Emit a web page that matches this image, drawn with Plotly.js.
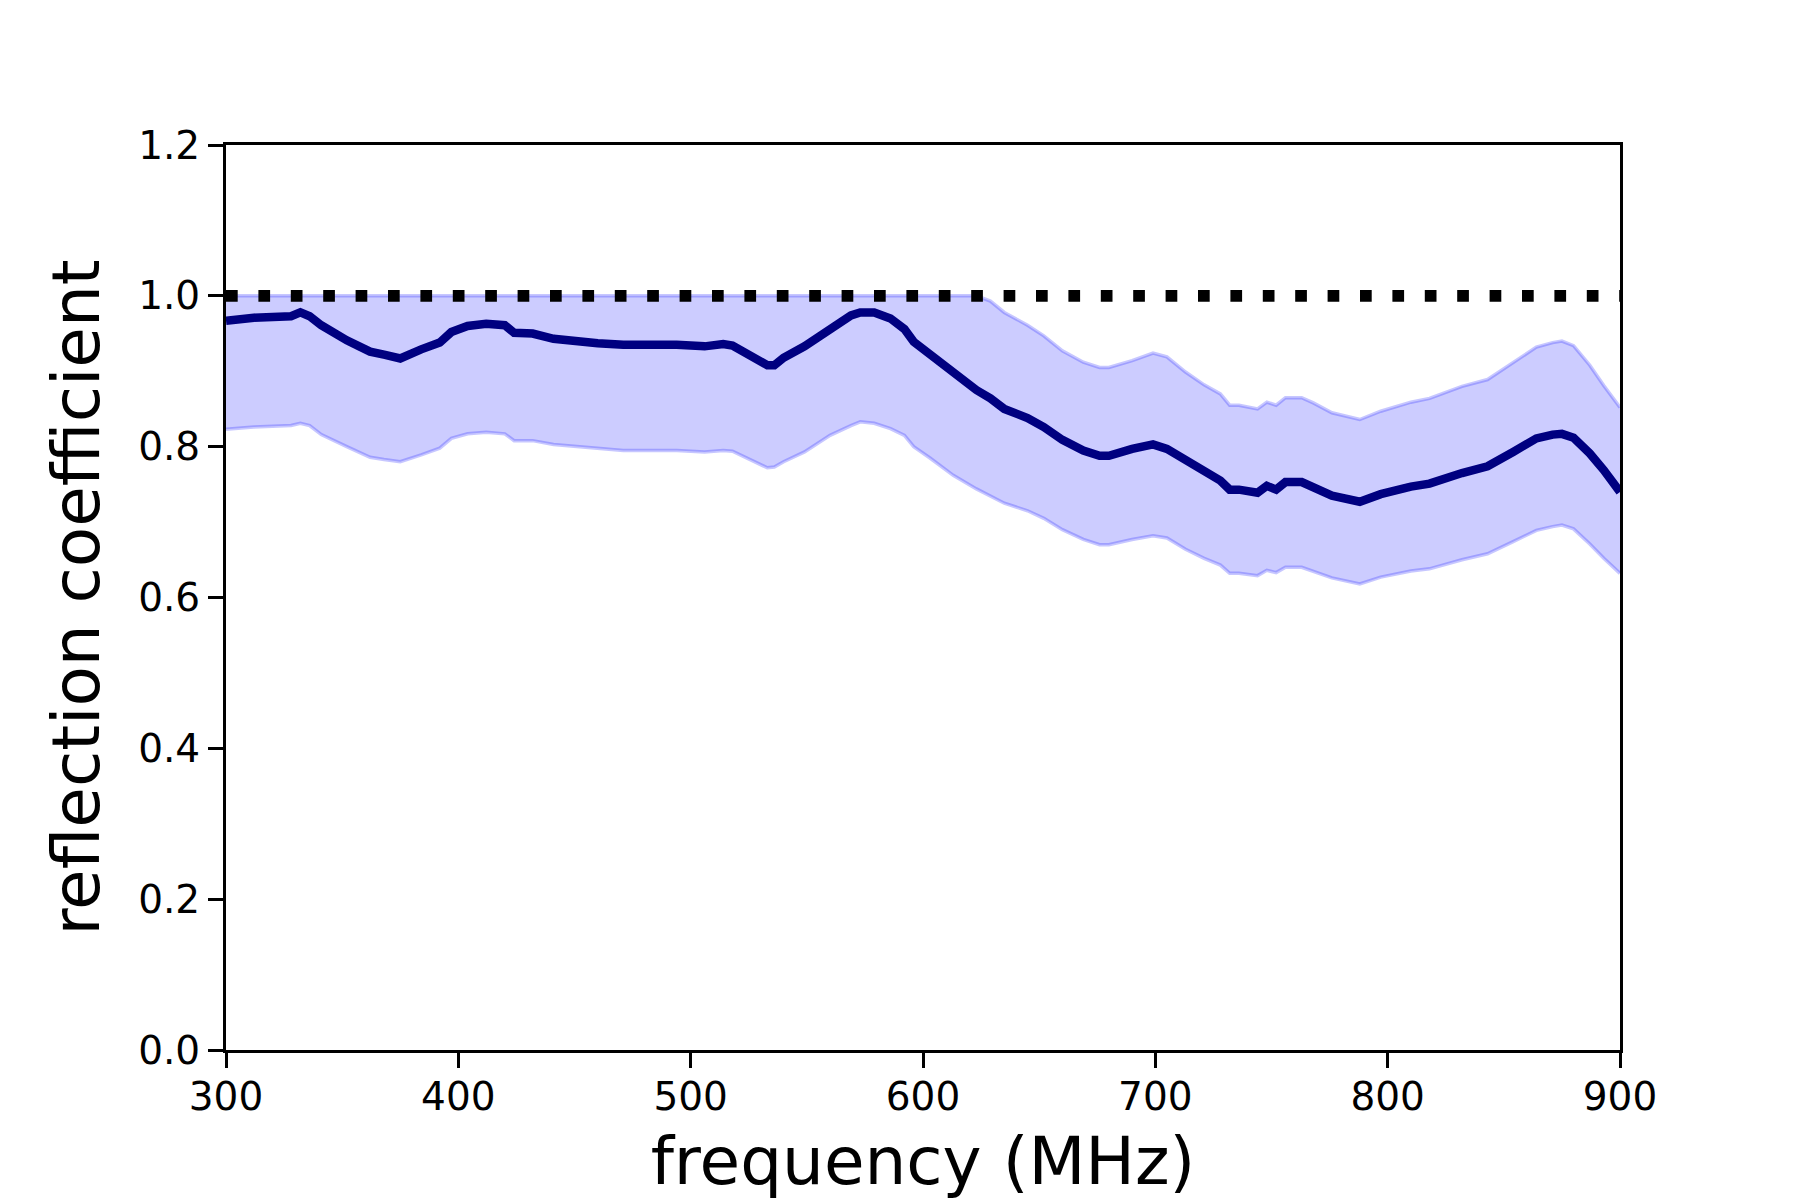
<!DOCTYPE html>
<html>
<head>
<meta charset="utf-8">
<script src="https://cdn.plot.ly/plotly-3.0.1.min.js"></script>
<style>
  html, body { margin: 0; padding: 0; background: #fff; }
  #chart { width: 1800px; height: 1200px; }
</style>
</head>
<body>
<div id="chart"></div>
<script>
// ─── Data ───
const freq = [
  300, 312, 328, 332, 336, 341, 352, 362, 368, 375, 384, 392, 397, 404, 412,
  420, 424, 432, 441, 452, 460, 471, 483, 494, 506, 514, 518, 526, 533, 536,
  540, 549, 560, 569, 573, 579, 586, 592, 596, 603, 613, 623, 629, 635, 645,
  652, 660, 669, 676, 680, 690, 699, 705, 713, 721, 728, 732, 736, 744, 748,
  752, 756, 763, 768, 776, 788, 797, 810, 818, 832, 843, 854, 864, 871, 875,
  880, 887, 893, 900,
];
const meanR = [
  0.967, 0.971, 0.973, 0.978, 0.973, 0.961, 0.941, 0.926, 0.922, 0.917, 0.929, 0.938, 0.952, 0.960, 0.963,
  0.961, 0.951, 0.950, 0.943, 0.939, 0.937, 0.935, 0.936, 0.935, 0.933, 0.936, 0.934, 0.921, 0.908, 0.908,
  0.918, 0.933, 0.956, 0.974, 0.978, 0.978, 0.970, 0.956, 0.939, 0.922, 0.897, 0.875, 0.864, 0.850, 0.838,
  0.826, 0.809, 0.795, 0.788, 0.788, 0.797, 0.803, 0.797, 0.782, 0.765, 0.755, 0.743, 0.743, 0.739, 0.748,
  0.743, 0.753, 0.753, 0.747, 0.735, 0.727, 0.737, 0.747, 0.751, 0.765, 0.774, 0.793, 0.811, 0.816, 0.817,
  0.812, 0.791, 0.769, 0.740,
];
const lowerR = [
  0.823, 0.826, 0.828, 0.831, 0.828, 0.816, 0.800, 0.786, 0.783, 0.780, 0.789, 0.798, 0.811, 0.817, 0.819,
  0.817, 0.808, 0.808, 0.803, 0.800, 0.797, 0.795, 0.795, 0.795, 0.793, 0.795, 0.794, 0.782, 0.772, 0.773,
  0.780, 0.793, 0.815, 0.828, 0.833, 0.831, 0.824, 0.815, 0.800, 0.785, 0.762, 0.744, 0.735, 0.725, 0.715,
  0.705, 0.690, 0.677, 0.670, 0.670, 0.677, 0.682, 0.679, 0.664, 0.652, 0.643, 0.632, 0.632, 0.629, 0.636,
  0.633, 0.640, 0.640, 0.635, 0.626, 0.618, 0.627, 0.635, 0.638, 0.650, 0.658, 0.674, 0.689, 0.694, 0.696,
  0.691, 0.671, 0.652, 0.632,
];
const upperR = [
  1.0, 1.0, 1.0, 1.0, 1.0, 1.0, 1.0, 1.0, 1.0, 1.0, 1.0, 1.0, 1.0, 1.0, 1.0,
  1.0, 1.0, 1.0, 1.0, 1.0, 1.0, 1.0, 1.0, 1.0, 1.0, 1.0, 1.0, 1.0, 1.0, 1.0,
  1.0, 1.0, 1.0, 1.0, 1.0, 1.0, 1.0, 1.0, 1.0, 1.0, 1.0, 1.0, 0.993, 0.978, 0.961,
  0.947, 0.927, 0.912, 0.905, 0.905, 0.914, 0.924, 0.919, 0.899, 0.882, 0.870, 0.855, 0.855, 0.850, 0.859,
  0.855, 0.865, 0.865, 0.858, 0.845, 0.836, 0.847, 0.859, 0.864, 0.880, 0.889, 0.911, 0.932, 0.938, 0.940,
  0.934, 0.908, 0.881, 0.852,
];
// perfect reflector reference
const refFreq = [300, 900];
const refR = [1.0, 1.0];

const xTicks = [300, 400, 500, 600, 700, 800, 900];
const yTicks = [0.0, 0.2, 0.4, 0.6, 0.8, 1.0, 1.2];
const yTickText = ["0.0", "0.2", "0.4", "0.6", "0.8", "1.0", "1.2"];

// ─── Traces ───
const bandLine = { color: "rgba(0,0,255,0.22)", width: 3.5 };
const traces = [
  {
    x: freq,
    y: lowerR,
    mode: "lines",
    line: bandLine,
    hoverinfo: "skip",
  },
  {
    x: freq,
    y: upperR,
    mode: "lines",
    line: bandLine,
    fill: "tonexty",
    fillcolor: "rgba(0,0,255,0.2)",
    hoverinfo: "skip",
  },
  {
    x: refFreq,
    y: refR,
    mode: "lines",
    line: { color: "#000000", width: 11.7, dash: "11.7px,20.7px" },
  },
  {
    x: freq,
    y: meanR,
    mode: "lines",
    line: { color: "#000080", width: 8.5 },
  },
];

// ─── Layout ───
const font = { family: "DejaVu Sans", color: "#000000" };
const axisBase = {
  showline: true,
  mirror: true,
  linecolor: "#000000",
  linewidth: 3,
  showgrid: false,
  zeroline: false,
  ticks: "outside",
  ticklen: 15,
  tickwidth: 3,
  tickcolor: "#000000",
  tickfont: Object.assign({}, font, { size: 39 }),
};

const layout = {
  width: 1800,
  height: 1200,
  paper_bgcolor: "#ffffff",
  plot_bgcolor: "#ffffff",
  font: font,
  showlegend: false,
  margin: { l: 225.5, r: 179.5, t: 144.5, b: 150 },
  xaxis: Object.assign({}, axisBase, {
    range: [300, 900],
    tickvals: xTicks,
    ticklabelstandoff: -5,
    title: {
      text: "frequency (MHz)",
      font: Object.assign({}, font, { size: 66 }),
      standoff: 24,
    },
  }),
  yaxis: Object.assign({}, axisBase, {
    range: [0, 1.2],
    tickvals: yTicks,
    ticktext: yTickText,
    title: {
      text: "reflection coefficient",
      font: Object.assign({}, font, { size: 66 }),
      standoff: 18,
    },
  }),
};

Plotly.newPlot("chart", traces, layout, { displayModeBar: false, staticPlot: true });
</script>
</body>
</html>
